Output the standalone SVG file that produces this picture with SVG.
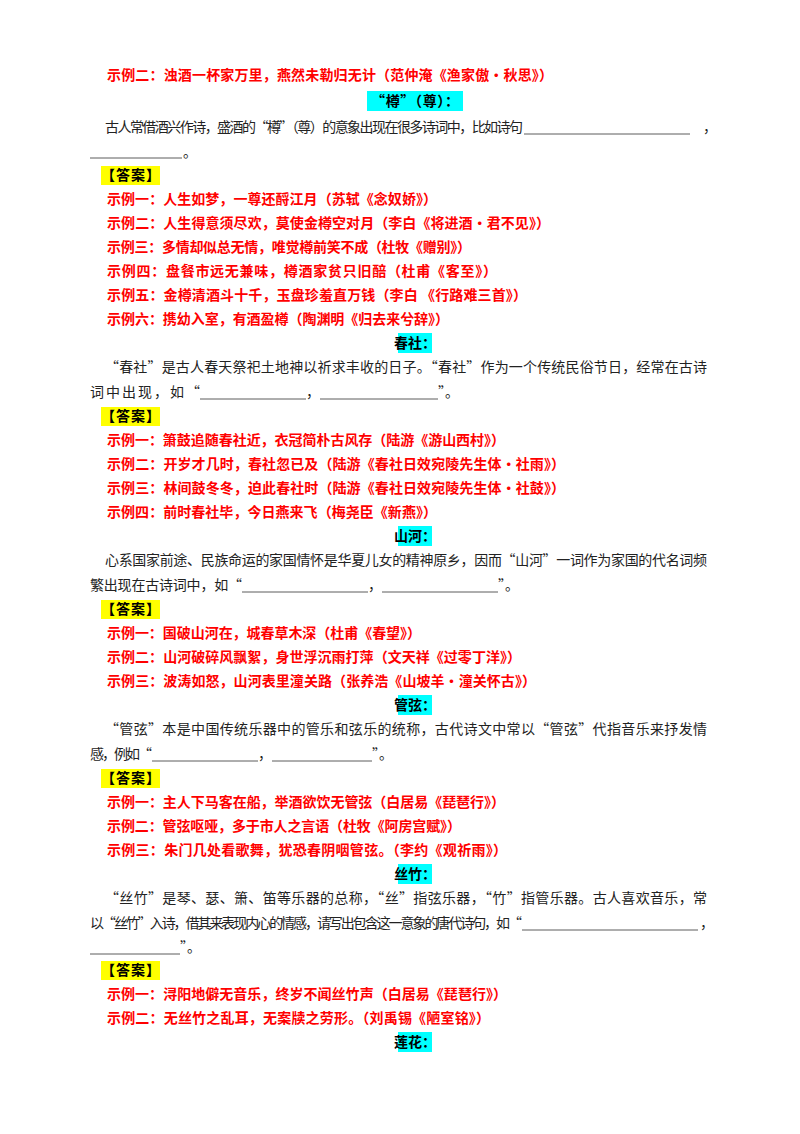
<svg xmlns="http://www.w3.org/2000/svg" width="800" height="1134" viewBox="0 0 800 1134">
<style>
text{font-family:"Noto Sans CJK SC",sans-serif;font-size:14px}
.r{fill:#ff0000;font-weight:bold}
.b{fill:#222}
.h{fill:#000;font-weight:bold;text-anchor:middle}
.k{fill:#000;font-weight:bold}
.cy{fill:#00ffff}
.yl{fill:#ffff00}
.u{stroke:#333;stroke-width:0.8}
</style>
<rect width="800" height="1134" fill="#fff"/>
<g id="s1">
<text class="r" x="107" y="80" textLength="446">示例二：浊酒一杯家万里，燕然未勒归无计（范仲淹《渔家傲·秋思》）</text>
<rect class="cy" x="367" y="91" width="96" height="20"/><text class="h" x="415" y="106" textLength="88">“樽”（尊）：</text>
<text class="b" x="105" y="132" textLength="418">古人常借酒兴作诗，盛酒的“樽”（尊）的意象出现在很多诗词中，比如诗句</text>
<line class="u" x1="524" y1="134" x2="690" y2="134"/><text class="b" x="703" y="132">，</text>
<line class="u" x1="90" y1="158" x2="182" y2="158"/><text class="b" x="183" y="157">。</text>
<rect class="yl" x="101" y="166" width="59" height="19"/><text class="k" x="101" y="180" textLength="59">【答案】</text>
<text class="r" x="107" y="204" textLength="330">示例一：人生如梦，一尊还酹江月（苏轼《念奴娇》）</text>
<text class="r" x="107" y="228" textLength="443">示例二：人生得意须尽欢，莫使金樽空对月（李白《将进酒·君不见》）</text>
<text class="r" x="107" y="252" textLength="364">示例三：多情却似总无情，唯觉樽前笑不成（杜牧《赠别》）</text>
<text class="r" x="107" y="276" textLength="390">示例四：盘餐市远无兼味，樽酒家贫只旧醅（杜甫《客至》）</text>
<text class="r" x="107" y="300" textLength="420">示例五：金樽清酒斗十千，玉盘珍羞直万钱（李白 《行路难三首》）</text>
<text class="r" x="107" y="324" textLength="342">示例六：携幼入室，有酒盈樽（陶渊明《归去来兮辞》）</text>
</g>
<g id="s2">
<rect class="cy" x="398" y="333" width="34" height="20"/><text class="h" x="415" y="348">春社：</text>
<text class="b" x="105" y="372" textLength="602">“春社”是古人春天祭祀土地神以祈求丰收的日子。“春社”作为一个传统民俗节日，经常在古诗</text>
<text class="b" x="90" y="397" textLength="110">词中出现，如“</text>
<line class="u" x1="200" y1="399" x2="306" y2="399"/><text class="b" x="306" y="397">，</text>
<line class="u" x1="320" y1="399" x2="438" y2="399"/><text class="b" x="438" y="397">”。</text>
<rect class="yl" x="101" y="407" width="59" height="19"/><text class="k" x="101" y="421" textLength="59">【答案】</text>
<text class="r" x="107" y="445" textLength="398">示例一：箫鼓追随春社近，衣冠简朴古风存（陆游《游山西村》）</text>
<text class="r" x="107" y="469" textLength="458">示例二：开岁才几时，春社忽已及（陆游《春社日效宛陵先生体·社雨》）</text>
<text class="r" x="107" y="493" textLength="458">示例三：林间鼓冬冬，迫此春社时（陆游《春社日效宛陵先生体·社鼓》）</text>
<text class="r" x="107" y="517" textLength="330">示例四：前时春社毕，今日燕来飞（梅尧臣《新燕》）</text>
</g>
<g id="s3">
<rect class="cy" x="398" y="526" width="34" height="20"/><text class="h" x="415" y="541">山河：</text>
<text class="b" x="105" y="565" textLength="602">心系国家前途、民族命运的家国情怀是华夏儿女的精神原乡，因而“山河”一词作为家国的代名词频</text>
<text class="b" x="90" y="590" textLength="152">繁出现在古诗词中，如“</text>
<line class="u" x1="242" y1="592" x2="368" y2="592"/><text class="b" x="368" y="590">，</text>
<line class="u" x1="382" y1="592" x2="498" y2="592"/><text class="b" x="498" y="590">”。</text>
<rect class="yl" x="101" y="600" width="59" height="19"/><text class="k" x="101" y="614" textLength="59">【答案】</text>
<text class="r" x="107" y="638" textLength="314">示例一：国破山河在，城春草木深（杜甫《春望》）</text>
<text class="r" x="107" y="662" textLength="414">示例二：山河破碎风飘絮，身世浮沉雨打萍（文天祥《过零丁洋》）</text>
<text class="r" x="107" y="686" textLength="429">示例三：波涛如怒，山河表里潼关路（张养浩《山坡羊·潼关怀古》）</text>
</g>
<g id="s4">
<rect class="cy" x="398" y="695" width="34" height="20"/><text class="h" x="415" y="710">管弦：</text>
<text class="b" x="105" y="734" textLength="602">“管弦”本是中国传统乐器中的管乐和弦乐的统称，古代诗文中常以“管弦”代指音乐来抒发情</text>
<text class="b" x="90" y="759" textLength="62">感，例如“</text>
<line class="u" x1="152" y1="761" x2="258" y2="761"/><text class="b" x="258" y="759">，</text>
<line class="u" x1="272" y1="761" x2="372" y2="761"/><text class="b" x="372" y="759">”。</text>
<rect class="yl" x="101" y="769" width="59" height="19"/><text class="k" x="101" y="783" textLength="59">【答案】</text>
<text class="r" x="107" y="807" textLength="398">示例一：主人下马客在船，举酒欲饮无管弦（白居易《琵琶行》）</text>
<text class="r" x="107" y="831" textLength="354">示例二：管弦呕哑，多于市人之言语（杜牧《阿房宫赋》）</text>
<text class="r" x="107" y="855" textLength="400">示例三：朱门几处看歌舞，犹恐春阴咽管弦。（李约《观祈雨》）</text>
</g>
<g id="s5">
<rect class="cy" x="398" y="864" width="34" height="20"/><text class="h" x="415" y="879">丝竹：</text>
<text class="b" x="105" y="903" textLength="602">“丝竹”是琴、瑟、箫、笛等乐器的总称，“丝”指弦乐器，“竹”指管乐器。古人喜欢音乐，常</text>
<text class="b" x="90" y="928" textLength="432">以“丝竹”入诗，借其来表现内心的情感，请写出包含这一意象的唐代诗句，如“</text>
<line class="u" x1="522" y1="930" x2="698" y2="930"/><text class="b" x="700" y="928">，</text>
<line class="u" x1="90" y1="954" x2="180" y2="954"/><text class="b" x="180" y="952">”。</text>
<rect class="yl" x="101" y="961" width="59" height="19"/><text class="k" x="101" y="975" textLength="59">【答案】</text>
<text class="r" x="107" y="999" textLength="400">示例一：浔阳地僻无音乐，终岁不闻丝竹声（白居易《琵琶行》）</text>
<text class="r" x="107" y="1023" textLength="383">示例二：无丝竹之乱耳，无案牍之劳形。（刘禹锡《陋室铭》）</text>
<rect class="cy" x="398" y="1032" width="34" height="20"/><text class="h" x="415" y="1047">莲花：</text>
</g>
</svg>
